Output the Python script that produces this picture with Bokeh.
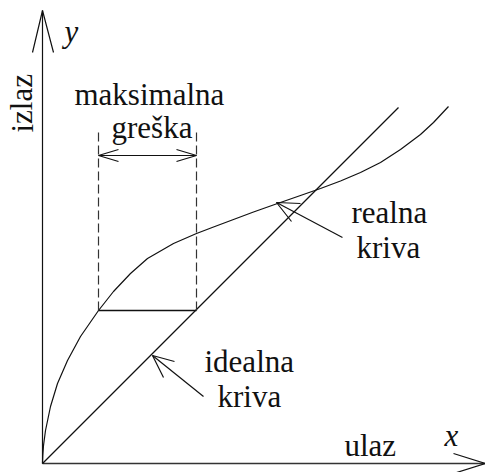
from bokeh.plotting import figure
from bokeh.models import Range1d
from bokeh.core.properties import value
from bokeh.embed import file_html
from bokeh.resources import INLINE

# Real (non-linear) transfer characteristic: input x -> output y
real_x = [0, 0.3, 1, 3, 8, 15, 25, 38, 56, 71, 88, 105, 131, 154, 171, 191,
          211, 235, 258, 278, 298, 318, 338, 358, 378, 391, 406]
real_y = [0, 8, 18, 33, 57, 80, 103, 127, 153, 172, 190, 205, 220, 230, 236.5, 244,
          251.5, 260, 268, 275, 282.5, 291, 301, 314, 329, 341, 357]

# Ideal (linear) characteristic y = x
ideal_x = [0, 356]
ideal_y = [0, 356]

# Maximum error: horizontal gap between the curves at the same output level
err_level = 153
err_x_real = 56
err_x_ideal = 154

FS = "31px"
INK = "#111111"

p = figure(width=485, height=472, x_range=Range1d(-42, 443), y_range=Range1d(-9, 463),
           x_axis_type=None, y_axis_type=None, toolbar_location=None,
           output_backend="svg", min_border=0, outline_line_color=None)
p.grid.visible = False

# Text labels: anchored at their left end, box bottom
labels = [
    ("maksimalna", 32, 352),
    ("greška", 69, 319),
    ("realna", 309, 234),
    ("kriva", 314, 199),
    ("idealna", 162, 85),
    ("kriva", 175, 50),
    ("ulaz", 302, 1),
]
F = value("Liberation Serif")
for t, x, y in labels:
    p.text([x], [y], text=[t], text_font=F, text_font_size=FS, text_color=INK)
p.text([402], [11], text=["x"], text_font=F, text_font_size=FS,
       text_font_style="italic", text_color=INK)
p.text([22], [415], text=["y"], text_font=F, text_font_size=FS,
       text_font_style="italic", text_color=INK)
p.text([-3], [331], text=["izlaz"], angle=1.5708, text_font=F,
       text_font_size=FS, text_color=INK)


def seg(xs, ys, **kw):
    p.line(xs, ys, line_color=kw.pop("color", INK), line_width=kw.pop("width", 1.2), **kw)


# Axes with open arrowheads
seg([0, 0], [0, 453])
seg([-10, 0, 11], [411, 453, 411])
seg([0, 443], [0, 0], width=1.6, color="#333333")
seg([411, 443, 411], [10, 0, -10])

# Curves
seg(ideal_x, ideal_y)
seg(real_x, real_y)

# Maximum-error dimension
top = 331
seg([err_x_real, err_x_ideal], [err_level, err_level], width=1.4)
arr_y = 308
seg([err_x_real, err_x_ideal], [arr_y, arr_y])
seg([err_x_real + 20, err_x_real, err_x_real + 20], [arr_y + 6, arr_y, arr_y - 6])
seg([err_x_ideal - 20, err_x_ideal, err_x_ideal - 20], [arr_y + 6, arr_y, arr_y - 6])

# Pointer to the real curve
seg([300, 234], [226, 261])
seg([258, 234, 249], [260, 261, 242])
# Pointer to the ideal curve
seg([161, 110], [67, 108])
seg([132, 110, 121], [102, 108, 86])

# Dashed extension lines of the error dimension
seg([err_x_real, err_x_real], [err_level, top], line_dash="9 4", color="#333333")
seg([err_x_ideal, err_x_ideal], [err_level, top], line_dash="9 4", color="#333333")

open("out.html", "w").write(file_html(p, INLINE))
